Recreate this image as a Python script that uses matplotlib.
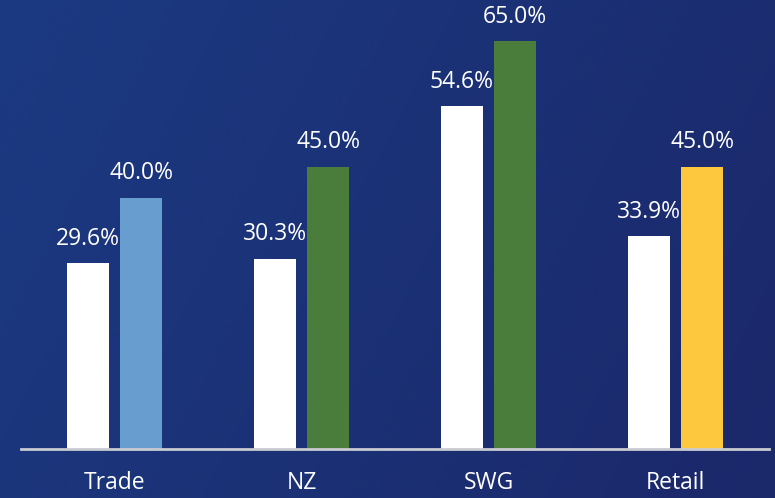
import numpy as np
import matplotlib
matplotlib.use("Agg")
import matplotlib.pyplot as plt

categories = ["Trade", "NZ", "SWG", "Retail"]
white_vals = [29.6, 30.3, 54.6, 33.9]
target_vals = [40.0, 45.0, 65.0, 45.0]
target_colors = ["#689ecf", "#4a7d3c", "#4a7d3c", "#fdc83d"]

plt.rcParams['font.family'] = ['Open Sans', 'DejaVu Sans']

fig = plt.figure(figsize=(7.75, 4.98), dpi=100)

# gradient background
bg = fig.add_axes([0, 0, 1, 1])
xx, yy = np.meshgrid(np.linspace(0, 1, 300), np.linspace(0, 1, 200))
t = np.clip(0.75 * xx + 0.25 * yy, 0, 1)
c0 = np.array([27, 58, 130]) / 255
c1 = np.array([27, 40, 106]) / 255
img = c0[None, None, :] * (1 - t[..., None]) + c1[None, None, :] * t[..., None]
bg.imshow(img, aspect='auto', extent=[0, 1, 0, 1], origin='upper')
bg.axis('off')

ax = fig.add_axes([21 / 775, 49 / 498, 748 / 775, 449 / 498])
ax.patch.set_alpha(0)
x = np.arange(len(categories))
w = 0.225
off = 0.142
ax.bar(x - off, white_vals, width=w, color="white")
ax.bar(x + off, target_vals, width=w, color=target_colors)

for xi, v in zip(x - off, white_vals):
    ax.text(xi, v + 2.0, f"{v:.1f}%", ha='center', va='bottom', color='white', fontsize=16.5)
for xi, v in zip(x + off, target_vals):
    ax.text(xi, v + 2.0, f"{v:.1f}%", ha='center', va='bottom', color='white', fontsize=16.5)

ax.set_xlim(-0.5, 3.5)
ax.set_ylim(0, 71.55)
ax.set_xticks(x)
ax.set_xticklabels(categories, color='white', fontsize=16.5)
ax.tick_params(axis='x', length=0, pad=16)
ax.set_yticks([])
for s in ['top', 'right', 'left']:
    ax.spines[s].set_visible(False)
ax.spines['bottom'].set_color('#c9cbd2')
ax.spines['bottom'].set_linewidth(2)

fig.savefig("out.png", dpi=100)
